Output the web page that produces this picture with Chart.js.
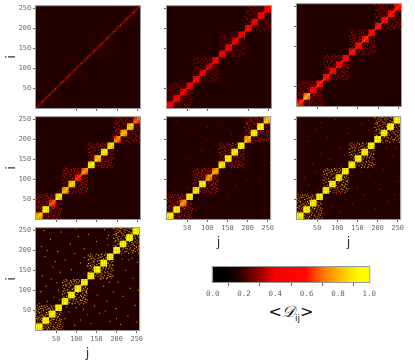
<!DOCTYPE html>
<html><head><meta charset="utf-8">
<style>
html,body{margin:0;padding:0;background:#fff;width:415px;height:364px;overflow:hidden}
canvas{position:absolute;filter:blur(.3px)}
#cbt{position:absolute;left:212px;width:158px;top:300px;text-align:center;font-family:"DejaVu Sans",sans-serif;font-size:16px;color:#111;line-height:24px;white-space:nowrap}
#cbt sub{font-family:"DejaVu Sans",sans-serif;font-size:9px;line-height:0;color:#111}
</style>
<script src="https://cdn.jsdelivr.net/npm/chart.js@4"></script>
</head><body>
<div id="cbt">&lt;<span style="font-family:'Liberation Serif',serif;font-style:italic">𝒟</span><sub>ij</sub>&gt;</div>
<script>
// one mean value per 16-node block, bottom-left to top-right
const blocks1=[.22,.22,.21,.21,.22,.22,.21,.22,.22,.22,.22,.21,.22,.22,.22,.23];
const blocks2=[.5,.48,.42,.46,.5,.42,.36,.5,.46,.46,.42,.48,.5,.48,.5,.5];
const blocks3=[.62,.78,.55,.6,.58,.52,.5,.55,.58,.55,.62,.55,.58,.56,.58,.6];
const blocks4=[.83,.97,.66,.92,.82,.88,.62,.75,.95,.85,.97,.9,.72,.82,.88,.68];
const blocks5=[.97,.97,.75,.97,.93,.97,.75,.78,.93,.97,.95,.98,.8,.97,.97,.85];
const blocks6=[.97,.98,.97,.98,.97,.98,.93,.97,.98,.97,.97,.98,.97,.97,.98,.98];
const blocks7=[.99,.99,.98,.99,.99,.99,.98,.99,.98,.99,.99,.99,.98,.99,.99,.99];
// within-block shading read from the blocks (four by four)
const blockTexture=[[.05,.0,-.04,-.1],[.0,.05,-.02,-.04],[-.04,-.02,.05,.0],[-.1,-.04,.0,.05]];
// off-block specks inside each 64-node module: [i, j, weight]
const specksA=[[18,3,1],[20,9,.8],[22,14,.6],[25,5,1],[27,11,.7],[29,2,.9],[31,7,1.1],[17,12,.7],[24,15,.9],[30,13,.8],[34,4,.7],[36,10,1],[38,15,.8],[41,2,.8],[43,8,1.1],[45,13,.7],[47,5,.9],[35,18,1],[37,24,.8],[39,29,.9],[42,20,.7],[44,26,1.1],[46,31,.8],[33,22,.8],[40,27,.7],[50,1,.8],[52,7,.9],[54,12,1],[56,4,.7],[58,9,.8],[60,14,.9],[62,3,.8],[49,19,.9],[51,25,.8],[53,30,1],[55,17,.7],[57,23,.9],[59,28,.8],[61,20,1],[63,26,.7],[50,36,1],[53,42,.8],[55,34,.9],[58,39,1],[60,45,.8],[62,37,.7],[49,43,.8]];
const specksB=[[19,5,.9],[21,12,1],[26,2,.7],[28,8,.8],[30,14,1],[33,3,.9],[35,9,.7],[37,14,1.1],[40,6,.8],[44,1,.7],[46,11,.9],[34,20,.8],[38,26,1],[41,30,.9],[43,18,.7],[47,23,.8],[48,4,.8],[50,10,1],[52,15,.7],[55,2,.9],[57,7,.8],[59,13,1.1],[61,5,.7],[63,11,.8],[49,21,1],[51,28,.8],[54,18,.9],[56,24,1.1],[58,31,.8],[60,22,.9],[62,29,1],[52,35,.9],[54,41,1.1],[57,37,.8],[59,44,1],[61,33,.9],[63,40,.8],[50,46,.7]];
const specksC=[[17,2,.9],[19,8,.7],[23,13,1],[26,6,.8],[28,15,1.1],[31,10,.8],[32,1,.9],[34,7,1],[36,13,.8],[39,3,1.1],[42,9,.8],[45,15,.9],[47,1,.7],[33,17,.8],[36,23,.9],[39,28,1],[42,17,.7],[45,25,1],[47,30,.8],[49,3,.9],[51,9,1.1],[53,14,.8],[56,6,1],[58,12,.8],[60,2,.7],[63,8,.9],[50,18,.8],[52,26,.9],[55,31,1],[58,20,.7],[60,27,1],[63,22,.8],[48,34,.7],[51,40,1],[54,46,.8],[56,36,.9],[59,42,.7],[62,35,1],[63,44,.9]];
const specksD=[[18,6,1],[21,1,.8],[23,10,.7],[25,14,.9],[29,4,1.1],[31,12,.8],[33,6,.9],[35,12,.8],[38,1,1],[40,10,.7],[43,14,.9],[46,7,1],[34,25,.8],[37,19,.9],[40,30,1],[44,22,.7],[46,28,.9],[48,2,.8],[50,7,1],[53,12,.9],[55,5,.7],[57,15,.8],[60,9,1],[62,1,.9],[63,13,.7],[49,24,1],[52,20,.8],[54,29,.9],[57,18,.7],[59,26,1],[61,31,.8],[63,19,.9],[49,38,.8],[52,44,1],[55,39,.9],[58,34,.7],[60,47,1],[62,41,.9]];
// strength of the speck cells in each panel
const speckLevels=[.19,.34,.4,.6,.64,.86,.92];
// scattered specks outside the modules: [i, j, value]
const noise1=[[120,40,.2],[180,70,.2],[210,130,.2]];
const noise2=[[118,30,.26],[170,55,.25],[205,95,.26],[150,20,.25],[235,140,.26],[90,12,.25]];
const noise3=[[100,22,.27],[145,70,.27],[190,110,.28],[228,50,.27],[240,170,.27],[85,30,.27]];
const noise4=[[75,15,.28],[110,38,.3],[135,48,.28],[160,90,.3],[195,60,.28],[225,120,.3],[245,150,.28],[215,175,.28],[100,52,.27],[172,25,.28],[132,80,.3]];
const noise5=[[72,20,.32],[95,42,.33],[128,15,.3],[150,55,.35],[170,85,.33],[205,40,.3],[230,100,.33],[242,135,.35],[212,160,.33],[185,120,.3],[115,60,.33],[78,50,.35],[222,68,.3],[246,25,.33],[198,98,.33],[158,30,.3]];
const noise6=[[68,12,.5],[86,30,.42],[105,18,.45],[120,50,.42],[138,38,.45],[150,80,.42],[165,60,.5],[178,108,.45],[195,25,.42],[205,75,.5],[215,125,.42],[228,45,.45],[238,160,.42],[250,95,.45],[248,178,.5],[188,142,.42],[98,62,.42],[72,52,.45],[132,110,.5],[222,178,.42],[242,60,.45],[160,118,.42]];
const noise7=[[66,8,.78],[72,28,.85],[82,45,.75],[96,12,.9],[110,25,.78],[118,52,.85],[128,38,.75],[136,16,.82],[145,60,.9],[152,88,.78],[158,42,.75],[168,110,.88],[176,72,.78],[184,22,.85],[192,96,.78],[198,54,.9],[204,120,.82],[210,14,.75],[216,85,.88],[222,150,.78],[228,36,.82],[234,105,.9],[240,130,.75],[246,62,.85],[252,170,.78],[250,20,.82],[238,180,.85],[214,178,.75],[186,135,.78],[126,100,.75],[90,66,.82],[76,58,.78],[100,56,.88],[162,128,.78],[182,120,.82],[230,176,.78],[254,100,.78],[200,28,.85],[172,48,.75]];
const xTicks1=[100,150,200,250], yTicks1=[50,100,150,200,250];
const xTicks2=[50,100,200,250], yTicks2=[50,150,200,250];
const xTicks3=[50,100,150,200,250], yTicks3=[50,150,200,250];
const allTicks=[50,100,150,200,250];
const colorbarLevels=[0,.02,.04,.06,.08,.1,.12,.14,.16,.18,.2,.22,.24,.26,.28,.3,.32,.34,.36,.38,.4,.42,.44,.46,.48,.5,.52,.54,.56,.58,.6,.62,.64,.66,.68,.7,.72,.74,.76,.78,.8,.82,.84,.86,.88,.9,.92,.94,.96,.98,1];
const colorbarTicks=[0,.2,.4,.6,.8,1];

const colorStops=[[0,[0,0,0]],[.09,[5,0,0]],[.17,[34,0,0]],[.3,[150,0,0]],[.4,[245,0,0]],[.6,[255,10,0]],[.72,[255,125,0]],[.85,[255,205,0]],[.95,[255,255,0]],[1,[255,255,0]]];
function cmap(v){
  v=Math.max(0,Math.min(1,v));
  for(let k=1;k<colorStops.length;k++){
    const [a,ca]=colorStops[k-1],[b,cb]=colorStops[k];
    if(v<=b){const t=(v-a)/(b-a);return 'rgb('+ca.map((c,n)=>Math.round(c+(cb[n]-c)*t)).join(',')+')';}
  }
  return 'rgb(255,255,0)';
}
const frame={id:'frame',
  beforeDatasetsDraw(c){const a=c.chartArea,x=c.ctx;x.save();x.fillStyle=c.config.options.areaFill||'#fff';x.fillRect(a.left,a.top,a.width,a.height);x.restore();},
  afterDraw(c){const a=c.chartArea,x=c.ctx;x.save();x.strokeStyle='#999';x.lineWidth=1;x.strokeRect(a.left-.5,a.top-.5,a.width+1,a.height+1);x.restore();}};

function panel(cfg){
  const W=104,LEFT=36,TOP=4,BOTTOM=cfg.jTitle||cfg.xLabels?32:10,RIGHT=5;
  const cv=document.createElement('canvas');
  cv.width=LEFT+W+RIGHT;cv.height=TOP+W+BOTTOM;
  cv.style.left=(cfg.x-LEFT)+'px';cv.style.top=(cfg.y-TOP)+'px';
  document.body.appendChild(cv);
  const pts=[],colors=[],radii=[];
  const add=(i,j,v,r)=>{pts.push({x:j,y:i});colors.push(cmap(v));radii.push(r);};
  const mods=[specksA,specksB,specksC,specksD];
  mods.forEach((m,k)=>m.forEach(([a,b,w])=>{
    const v=.17+(cfg.level-.17)*w, o=k*64;
    add(o+a,o+b,v,.75);add(o+b,o+a,v,.75);
  }));
  cfg.noise.forEach(([i,j,v])=>{add(i,j,v,.7);add(j,i,v,.7);});
  cfg.blocks.forEach((val,n)=>{
    for(let a=0;a<4;a++)for(let b=0;b<4;b++)
      add(n*16+a*4+2,n*16+b*4+2,val+blockTexture[a][b],1.3);
  });
  const datasets=[{type:'scatter',data:pts,pointStyle:'rect',pointBackgroundColor:colors,pointBorderWidth:0,pointRadius:radii,pointHoverRadius:radii}];
  if(cfg.diag)datasets.push({type:'scatter',showLine:true,data:[{x:0,y:0},{x:256,y:256}],borderColor:cfg.diag,borderWidth:cfg.diagW,pointRadius:0});
  const tickFont={family:'"DejaVu Sans Mono"',size:6.8};
  const mk=(ticks,labels)=>({type:'linear',min:0,max:256,
    afterBuildTicks:ax=>{ax.ticks=ticks.map(v=>({value:v}));},
    ticks:{autoSkip:false,maxRotation:0,padding:2,color:'#666',font:tickFont,callback:v=>labels?String(v):''},
    grid:{drawOnChartArea:false,tickLength:3,color:'#666'},border:{color:'#999',width:1}});
  const xs=mk(cfg.xTicks,cfg.xLabels), ys=mk(cfg.yTicks,true);
  xs.afterFit=ax=>{ax.height=BOTTOM;};
  ys.afterFit=ax=>{ax.width=LEFT;};
  if(cfg.jTitle)xs.title={display:true,text:'j',font:{family:'"DejaVu Sans"',size:13},color:'#333',padding:{top:0,bottom:1}};
  if(cfg.iTitle)ys.title={display:true,text:'i',font:{family:'"DejaVu Sans"',size:13},color:'#333',padding:{top:4,bottom:0}};
  if(!cfg.yLabels){ys.ticks.callback=()=>'';}
  new Chart(cv,{type:'scatter',data:{datasets},plugins:[frame],options:{areaFill:'#220000',responsive:false,animation:false,events:[],
    layout:{padding:{top:TOP,right:RIGHT,left:0,bottom:0}},
    plugins:{legend:{display:false},tooltip:{enabled:false},title:{display:false}},
    scales:{x:xs,y:ys}}});
}
panel({x:36,y:4,blocks:blocks1,noise:noise1,level:speckLevels[0],xTicks:xTicks1,yTicks:yTicks1,xLabels:false,yLabels:true,iTitle:true,diag:'#ffa000',diagW:1.2});
panel({x:167,y:4,blocks:blocks2,noise:noise2,level:speckLevels[1],xTicks:xTicks2,yTicks:yTicks2,xLabels:false,yLabels:false,diag:'#ff8000',diagW:1});
panel({x:297,y:2,blocks:blocks3,noise:noise3,level:speckLevels[2],xTicks:xTicks3,yTicks:yTicks3,xLabels:false,yLabels:false,diag:'#ff9000',diagW:1});
panel({x:36,y:115,blocks:blocks4,noise:noise4,level:speckLevels[3],xTicks:allTicks,yTicks:allTicks,xLabels:false,yLabels:true,iTitle:true});
panel({x:167,y:115,blocks:blocks5,noise:noise5,level:speckLevels[4],xTicks:allTicks,yTicks:allTicks,xLabels:true,yLabels:false,jTitle:true});
panel({x:297,y:115,blocks:blocks6,noise:noise6,level:speckLevels[5],xTicks:allTicks,yTicks:allTicks,xLabels:true,yLabels:false,jTitle:true});
panel({x:36,y:226,blocks:blocks7,noise:noise7,level:speckLevels[6],xTicks:allTicks,yTicks:allTicks,xLabels:true,yLabels:true,iTitle:true,jTitle:true});

// colour bar
(function(){
  const cv=document.createElement('canvas');
  cv.width=178;cv.height=40;cv.style.left='202px';cv.style.top='262px';
  document.body.appendChild(cv);
  new Chart(cv,{type:'bar',data:{datasets:[{data:colorbarLevels.map(v=>({x:v,y:1})),backgroundColor:colorbarLevels.map(cmap),barThickness:4,borderWidth:0}]},
    plugins:[frame],
    options:{areaFill:'#fff',responsive:false,animation:false,events:[],
      layout:{padding:{top:5,right:5,left:7,bottom:0}},
      plugins:{legend:{display:false},tooltip:{enabled:false}},
      scales:{
        x:{type:'linear',min:0,max:1,offset:false,
          afterBuildTicks:ax=>{ax.ticks=colorbarTicks.map(v=>({value:v}));},
          afterFit:ax=>{ax.height=20;},
          ticks:{autoSkip:false,maxRotation:0,padding:4,color:'#666',font:{family:'"DejaVu Sans Mono"',size:7.5},callback:v=>v.toFixed(1)},
          grid:{drawOnChartArea:false,tickLength:4,color:'#666'},border:{color:'#999'}},
        y:{min:0,max:1,display:false}
      }}});
})();
</script>
</body></html>
